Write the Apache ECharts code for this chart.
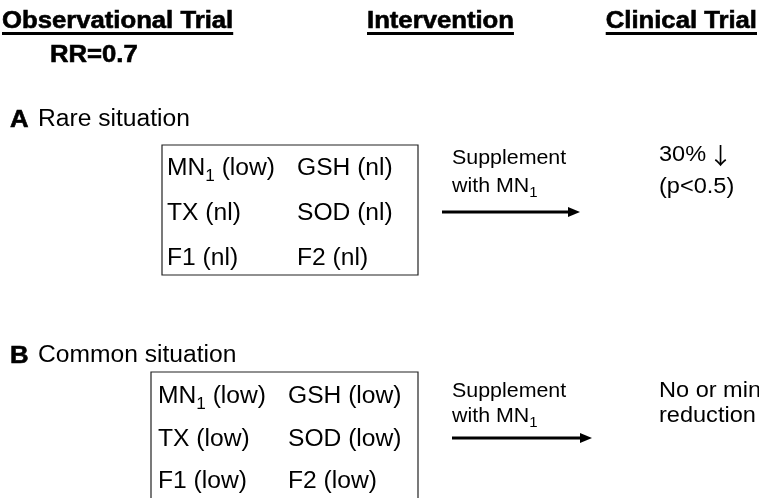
<!DOCTYPE html>
<html>
<head>
<meta charset="utf-8">
<script src="https://cdn.jsdelivr.net/npm/echarts@6/dist/echarts.min.js"></script>
<style>
html,body{margin:0;padding:0;background:#fff;}
#chart{width:759px;height:498px;}
</style>
</head>
<body>
<div id="chart"></div>
<script>
// ---- content ----
const headings = ['Observational Trial', 'Intervention', 'Clinical Trial'];
const rrLabel = 'RR=0.7';
const panelLetters = ['A', 'B'];
const panelTitles = ['Rare situation', 'Common situation'];
const panelARows = [['MN{sub|1} (low)', 'GSH (nl)'], ['TX (nl)', 'SOD (nl)'], ['F1 (nl)', 'F2 (nl)']];
const panelBRows = [['MN{sub|1} (low)', 'GSH (low)'], ['TX (low)', 'SOD (low)'], ['F1 (low)', 'F2 (low)']];
const interventionLines = ['Supplement', 'with MN{sub|1}'];
const outcomeA = ['30%{arr|\u2193}', '(p<0.5)'];
const outcomeB = ['No or minimal', 'reduction'];

// ---- layout / style ----
const FONT = '"Liberation Sans", Arial, Helvetica, sans-serif';
const SX = 1.07;
const BODY = 23, HEAD = 24, INT = 20, OUT = 22;
const chart = echarts.init(document.getElementById('chart'), null, {renderer: 'canvas'});

const ctx = document.createElement('canvas').getContext('2d');
function textW(t, size, bold) {
  ctx.font = (bold ? 'bold ' : '') + size + 'px ' + FONT;
  return ctx.measureText(t).width * SX;
}
function rich(size) {
  return {
    sub: {fontSize: Math.round(size * 0.7), lineHeight: Math.round(size * 0.7), verticalAlign: 'bottom', fontFamily: FONT, fill: '#000'},
    arr: {fontSize: size + 1, fontFamily: '"Noto Sans CJK SC", "DejaVu Sans", sans-serif', fill: '#000', padding: [0, 0, 0, 2]}
  };
}

function txt(t, x, y, size, bold, stroke) {
  return {
    type: 'text', x: x, y: y, scaleX: SX, silent: true,
    style: {
      text: t, fontSize: size, fontWeight: bold ? 'bold' : 'normal', fontFamily: FONT,
      fill: '#000', stroke: stroke ? '#000' : null, lineWidth: stroke ? 0.6 : 0,
      verticalAlign: 'middle', align: 'left', lineHeight: Math.round(size * 1.4), rich: rich(size)
    }
  };
}
function arrow(x1, x2, y) {
  return [
    {type: 'line', silent: true, shape: {x1: x1, y1: y, x2: x2 - 8, y2: y}, style: {stroke: '#000', lineWidth: 3}},
    {type: 'polygon', silent: true, shape: {points: [[x2, y], [x2 - 12, y - 5], [x2 - 12, y + 5]]}, style: {fill: '#000'}}
  ];
}

const els = [];
const headX = [2, 367, 757];
headings.forEach((h, i) => {
  const w = textW(h, HEAD, true);
  const x0 = i === 2 ? headX[i] - w : headX[i];
  els.push(txt(h, x0, 21, HEAD, true, true));
  els.push({type: 'line', silent: true, shape: {x1: x0, y1: 33.5, x2: x0 + w, y2: 33.5}, style: {stroke: '#000', lineWidth: 3}});
});
els.push(txt(rrLabel, 50, 55, HEAD, true, true));

const panels = [
  {titleY: 120, box: [162, 145, 256, 130], cols: [167, 297], rowsY: [169, 214, 259], rows: panelARows,
   intX: 452, intY: [158, 186], arr: [442, 580, 212], out: outcomeA, outY: [155, 187]},
  {titleY: 356, box: [151, 372, 267, 200], cols: [158, 288], rowsY: [397, 440, 482], rows: panelBRows,
   intX: 452, intY: [391, 416], arr: [452, 592, 438], out: outcomeB, outY: [391, 416]}
];
panels.forEach((p, i) => {
  els.push(txt(panelLetters[i], 10, p.titleY, HEAD, true, true));
  els.push(txt(panelTitles[i], 38, p.titleY, BODY, false));
  els.push({type: 'rect', silent: true, shape: {x: p.box[0], y: p.box[1], width: p.box[2], height: p.box[3]},
            style: {fill: 'none', stroke: '#222', lineWidth: 1.2}});
  p.rows.forEach((r, ri) => {
    r.forEach((c, ci) => els.push(txt(c, p.cols[ci], p.rowsY[ri], BODY, false)));
  });
  interventionLines.forEach((l, li) => els.push(txt(l, p.intX, p.intY[li], INT, false)));
  arrow(p.arr[0], p.arr[1], p.arr[2]).forEach(e => els.push(e));
  p.out.forEach((l, li) => els.push(txt(l, 659, p.outY[li], OUT, false)));
});

chart.setOption({
  backgroundColor: '#fff',
  animation: false,
  graphic: {elements: els}
});
</script>
</body>
</html>
